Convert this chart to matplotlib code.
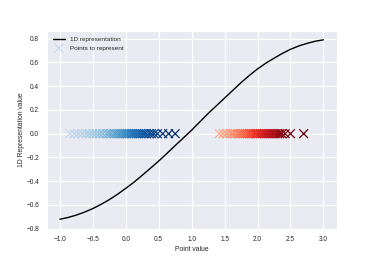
import matplotlib
matplotlib.use("Agg")
import matplotlib.pyplot as plt
import seaborn as sns
import numpy as np

# curve
curve_x = [-1.0, -0.875, -0.75, -0.625, -0.5, -0.375, -0.25, -0.125, 0.0, 0.125, 0.25, 0.375,
           0.5, 0.625, 0.75, 0.875, 1.0, 1.125, 1.25, 1.375, 1.5, 1.625, 1.75, 1.875, 2.0,
           2.125, 2.25, 2.375, 2.5, 2.625, 2.75, 2.875, 3.0]
curve_y = [-0.72, -0.705, -0.685, -0.66, -0.63, -0.595, -0.555, -0.51, -0.46, -0.408, -0.35, -0.29,
           -0.23, -0.166, -0.10, -0.035, 0.03, 0.10, 0.17, 0.235, 0.30, 0.365, 0.43, 0.49, 0.545,
           0.593, 0.635, 0.675, 0.71, 0.738, 0.76, 0.778, 0.79]

# the two groups of points (sorted)
blue_pts = [-0.85, -0.78, -0.72, -0.66, -0.60, -0.55, -0.50, -0.45, -0.40, -0.35, -0.30, -0.26,
            -0.22, -0.18, -0.15, -0.12, -0.09, -0.06, -0.03, 0.00, 0.02, 0.05, 0.08, 0.10, 0.13,
            0.16, 0.19, 0.22, 0.25, 0.28, 0.31, 0.35, 0.39, 0.43, 0.48, 0.56, 0.65, 0.75]
red_pts = [1.42, 1.48, 1.53, 1.58, 1.62, 1.66, 1.70, 1.73, 1.76, 1.79, 1.82, 1.85, 1.88, 1.90,
           1.93, 1.96, 1.98, 2.01, 2.04, 2.07, 2.10, 2.13, 2.16, 2.19, 2.22, 2.25, 2.28, 2.31,
           2.34, 2.37, 2.42, 2.50, 2.70]

sns.set_style("darkgrid")
plt.rcParams['font.family'] = ['Liberation Sans', 'DejaVu Sans']

fig = plt.figure(figsize=(3.74, 2.57), dpi=100)
ax = fig.add_axes([0.125, 0.11, 0.775, 0.77])

ax.plot(curve_x, curve_y, color='black', lw=1.0, label='1D representation')

bcol = plt.cm.Blues(np.linspace(0.25, 1.0, len(blue_pts)))
rcol = plt.cm.Reds(np.linspace(0.3, 1.0, len(red_pts)))
ax.scatter(blue_pts, np.zeros(len(blue_pts)), c=bcol, marker='x', s=40, linewidths=0.9,
           label='Points to represent')
ax.scatter(red_pts, np.zeros(len(red_pts)), c=rcol, marker='x', s=40, linewidths=0.9)

ax.set_xticks([-1.0, -0.5, 0.0, 0.5, 1.0, 1.5, 2.0, 2.5, 3.0])
ax.set_yticks([-0.8, -0.6, -0.4, -0.2, 0.0, 0.2, 0.4, 0.6, 0.8])
ax.tick_params(labelsize=4.7, colors='0.15', pad=2)
ax.grid(color='white', lw=0.8)
ax.set_xlabel('Point value', fontsize=4.9, labelpad=2)
ax.set_ylabel('1D Representation value', fontsize=4.9, labelpad=1)

ax.legend(loc='upper left', fontsize=4.6, frameon=False, handlelength=2.0)

fig.savefig('out.png', dpi=100)
